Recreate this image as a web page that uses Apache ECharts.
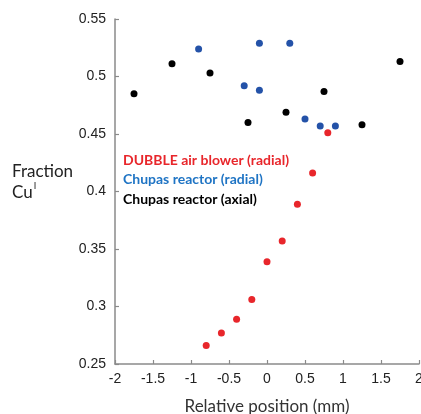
<!DOCTYPE html>
<html>
<head>
<meta charset="utf-8">
<script src="https://cdn.jsdelivr.net/npm/echarts@6/dist/echarts.min.js"></script>
<style>html,body{margin:0;padding:0;background:#fff}#c{width:421px;height:414px}</style>
</head>
<body>
<div id="c"></div>
<script>
const seriesNames = ['DUBBLE air blower (radial)', 'Chupas reactor (radial)', 'Chupas reactor (axial)'];
const dubbleX = [-0.8, -0.6, -0.4, -0.2, 0, 0.2, 0.4, 0.6, 0.8];
const dubbleY = [0.266, 0.277, 0.289, 0.306, 0.339, 0.357, 0.389, 0.416, 0.451];
const radialX = [-0.9, -0.3, -0.1, -0.1, 0.3, 0.5, 0.7, 0.9];
const radialY = [0.524, 0.492, 0.529, 0.488, 0.529, 0.463, 0.457, 0.457];
const axialX = [-1.75, -1.25, -0.75, -0.25, 0.25, 0.75, 1.25, 1.75];
const axialY = [0.485, 0.511, 0.503, 0.460, 0.469, 0.487, 0.458, 0.513];
const xTicks = [-2, -1.5, -1, -0.5, 0, 0.5, 1, 1.5, 2];
const yTicks = [0.25, 0.3, 0.35, 0.4, 0.45, 0.5, 0.55];

const markerColors = ['#e8262b', '#2452a8', '#000000'];
const textColors = ['#e8262b', '#1f74c4', '#000000'];
const pair = (xs, ys) => xs.map((x, i) => [x, ys[i]]);
const data = [pair(dubbleX, dubbleY), pair(radialX, radialY), pair(axialX, axialY)];

const chart = echarts.init(document.getElementById('c'), null, {renderer: 'canvas'});
const labelFont = "'Liberation Sans', Arial, sans-serif";
const axisCommon = {
  axisLine: {show: true, onZero: false, lineStyle: {color: '#8a8a8a', width: 1.5}},
  axisTick: {show: true, inside: true, length: 4, lineStyle: {color: '#8a8a8a', width: 1.2}},
  splitLine: {show: false},
  axisLabel: {color: '#222', fontSize: 14, fontFamily: labelFont}
};
chart.setOption({
  animation: false,
  grid: {left: 115, right: 2, top: 19, bottom: 50, containLabel: false, outerBoundsMode: 'none'},
  xAxis: Object.assign({}, axisCommon, {
    type: 'value', min: xTicks[0], max: xTicks[xTicks.length - 1], interval: 0.5,
    name: 'Relative position (mm)', nameLocation: 'middle', nameGap: 34,
    nameTextStyle: {fontSize: 17, color: '#333', fontFamily: 'Lato, sans-serif'},
    axisLabel: Object.assign({}, axisCommon.axisLabel, {margin: 8, showMaxLabel: true,
      formatter: v => String(+v.toFixed(1))})
  }),
  yAxis: Object.assign({}, axisCommon, {
    type: 'value', min: yTicks[0], max: yTicks[yTicks.length - 1], interval: 0.05,
    axisLabel: Object.assign({}, axisCommon.axisLabel, {margin: 9,
      formatter: v => String(+v.toFixed(2))})
  }),
  legend: {
    orient: 'vertical', left: 113, top: 148, itemGap: 5.5,
    icon: 'none', itemWidth: 0, itemHeight: 14,
    selectedMode: false,
    data: seriesNames.map((n, i) => ({name: n, textStyle: {color: textColors[i]}})),
    textStyle: {fontSize: 14, fontWeight: 'bold', fontFamily: 'Lato, sans-serif'}
  },
  graphic: [{
    type: 'text', left: 12, top: 163,
    style: {
      text: '{a|Fraction}\n{a|Cu}{s|I}',
      rich: {
        a: {fontSize: 17, fontFamily: 'Lato, sans-serif', fill: '#222', lineHeight: 21},
        s: {fontSize: 9, fontFamily: 'Lato, sans-serif', fill: '#222', verticalAlign: 'top', padding: [0, 0, 8, 1]}
      }
    }
  }],
  series: seriesNames.map((n, i) => ({
    name: n, type: 'scatter', data: data[i], symbolSize: 7,
    itemStyle: {color: markerColors[i], opacity: 1}, z: 3 - i
  }))
});
</script>
</body>
</html>
